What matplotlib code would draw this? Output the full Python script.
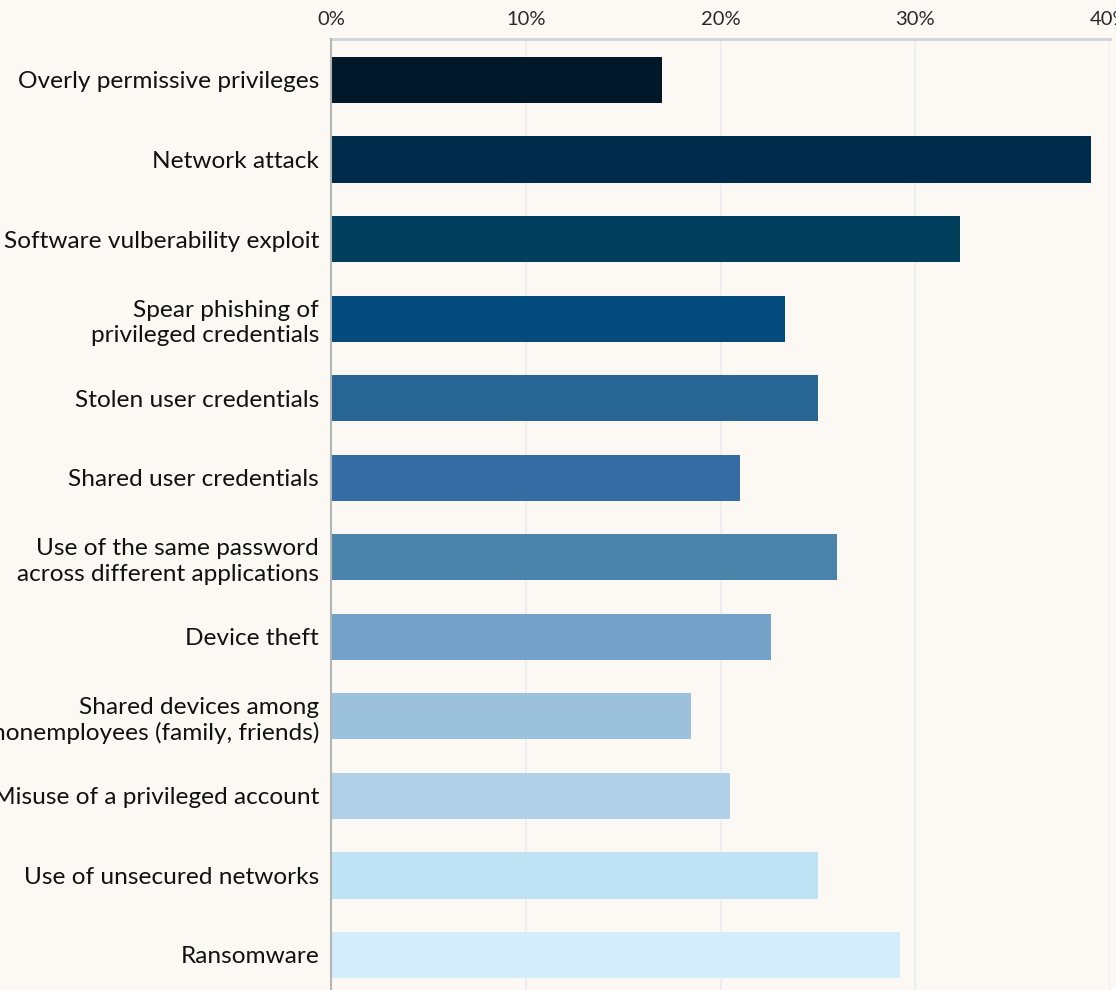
import numpy as np
from matplotlib import pyplot as plt
from matplotlib.ticker import FuncFormatter

# survey categories, top to bottom
categories = [
    "Overly permissive privileges",
    "Network attack",
    "Software vulberability exploit",
    "Spear phishing of\nprivileged credentials",
    "Stolen user credentials",
    "Shared user credentials",
    "Use of the same password\nacross different applications",
    "Device theft",
    "Shared devices among\nnonemployees (family, friends)",
    "Misuse of a privileged account",
    "Use of unsecured networks",
    "Ransomware",
]
# share of respondents (%)
values = [17.0, 39.0, 32.3, 23.3, 25.0, 21.0, 26.0, 22.6, 18.5, 20.5, 25.0, 29.2]
ticks = [0, 10, 20, 30, 40]

colors = ['#001829', '#002b4a', '#003f5c', '#034b7c', '#276594', '#356ca3',
          '#4b84ab', '#73a1c7', '#9cc1dc', '#b1d0ea', '#bee3f4', '#d3edfc']

bg = '#fcf9f4'
plt.rcParams['font.family'] = ['Lato', 'DejaVu Sans']

fig = plt.figure(figsize=(11.16, 9.9), dpi=100, facecolor=bg)
ax = fig.add_axes([331/1116, 0.0, 779/1116, 1 - 39/990])
ax.set_facecolor(bg)

y = np.arange(len(categories))
ax.barh(y, values, height=0.58, color=colors, zorder=3)

ax.set_xlim(0, 40)
ax.set_ylim(11.44, -0.515)
ax.set_yticks(y)
ax.set_yticklabels(categories, fontsize=17.6, color='#111111', linespacing=1.25)
ax.set_xticks(ticks)
ax.xaxis.set_major_formatter(FuncFormatter(lambda v, p: f"{v:.0f}%"))
ax.xaxis.tick_top()
ax.tick_params(axis='x', length=0, pad=8, labelsize=14.5, labelcolor='#2a2a2a')
ax.tick_params(axis='y', length=0, pad=8.5)

ax.grid(axis='x', color='#eceef0', linewidth=1.5, zorder=0)
ax.set_axisbelow(True)

for s in ['right', 'bottom']:
    ax.spines[s].set_visible(False)
ax.spines['top'].set_color('#cfd4da')
ax.spines['top'].set_linewidth(2)
ax.spines['left'].set_color('#b4b4b4')
ax.spines['left'].set_linewidth(1.5)
ax.spines['left'].set_zorder(4)

fig.savefig("out.png", dpi=100, facecolor=bg)
